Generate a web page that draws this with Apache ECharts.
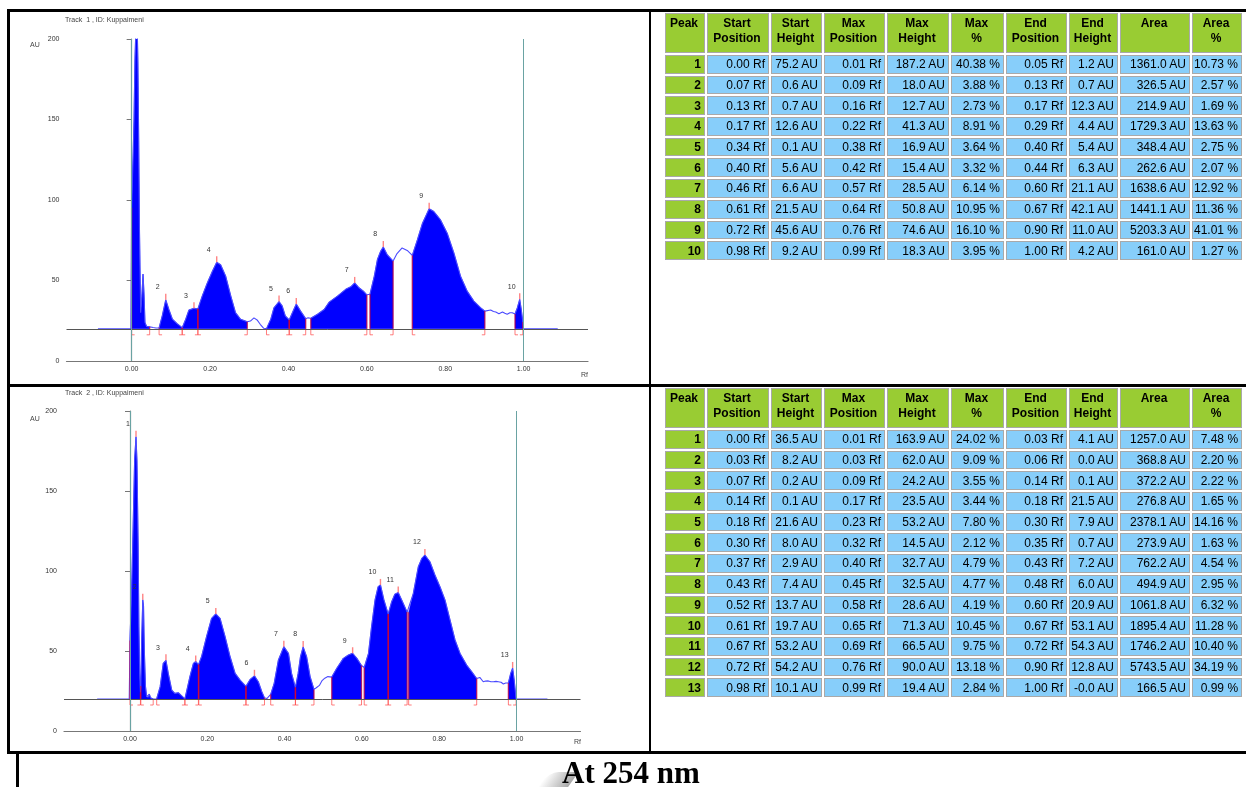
<!DOCTYPE html>
<html><head><meta charset="utf-8">
<script src="https://cdn.jsdelivr.net/npm/echarts@6/dist/echarts.min.js"></script>
<style>
html,body{margin:0;padding:0;background:#fff;width:1246px;height:787px;overflow:hidden;position:relative;}
#chart{position:absolute;left:0;top:0;width:1246px;height:787px;}
.bar{position:absolute;background:#000;z-index:5;}
table.pk{position:absolute;left:663px;border-collapse:separate;border-spacing:2px;table-layout:fixed;font-family:"Liberation Sans",Arial,sans-serif;font-size:12px;color:#000;z-index:4;}
table.pk td,table.pk th{box-sizing:border-box;border:1px solid #a9a9a9;padding:0 3px 0 1px;white-space:nowrap;overflow:hidden;}
table.pk th{background:#99cc33;font-weight:bold;vertical-align:top;text-align:center;height:40px;line-height:15px;padding-top:2px;}
table.pk td{background:#87cefa;text-align:right;height:18.7px;line-height:16px;}
table.pk td.pn{background:#99cc33;font-weight:bold;}
#cap{position:absolute;left:562px;top:757px;font-family:"Liberation Serif","Times New Roman",serif;font-weight:bold;font-size:31px;line-height:31px;color:#000;z-index:6;}
#sw{position:absolute;left:543px;top:772px;width:30px;height:16px;background:linear-gradient(to right,rgba(170,170,170,0),#a8a8a8);transform:skewX(-35deg);border-radius:10px 0 0 0;z-index:5;}
</style></head>
<body>
<div id="chart"></div>
<div class="bar" style="left:7px;top:9px;width:1239px;height:3px"></div>
<div class="bar" style="left:7px;top:9px;width:3px;height:745px"></div>
<div class="bar" style="left:649px;top:9px;width:2px;height:745px"></div>
<div class="bar" style="left:7px;top:384px;width:1239px;height:3px"></div>
<div class="bar" style="left:7px;top:751px;width:1239px;height:3px"></div>
<div class="bar" style="left:16px;top:754px;width:3px;height:33px"></div>
<div id="sw"></div>
<div id="cap">At 254 nm</div>
<table class="pk" id="tab1" style="top:11px"></table>
<table class="pk" id="tab2" style="top:386px"></table>
<script>
// ---------- table data (track 1) ----------
const t1StartPos = ['0.00','0.07','0.13','0.17','0.34','0.40','0.46','0.61','0.72','0.98'];
const t1StartH   = ['75.2','0.6','0.7','12.6','0.1','5.6','6.6','21.5','45.6','9.2'];
const t1MaxPos   = ['0.01','0.09','0.16','0.22','0.38','0.42','0.57','0.64','0.76','0.99'];
const t1MaxH     = ['187.2','18.0','12.7','41.3','16.9','15.4','28.5','50.8','74.6','18.3'];
const t1MaxPct   = ['40.38','3.88','2.73','8.91','3.64','3.32','6.14','10.95','16.10','3.95'];
const t1EndPos   = ['0.05','0.13','0.17','0.29','0.40','0.44','0.60','0.67','0.90','1.00'];
const t1EndH     = ['1.2','0.7','12.3','4.4','5.4','6.3','21.1','42.1','11.0','4.2'];
const t1Area     = ['1361.0','326.5','214.9','1729.3','348.4','262.6','1638.6','1441.1','5203.3','161.0'];
const t1AreaPct  = ['10.73','2.57','1.69','13.63','2.75','2.07','12.92','11.36','41.01','1.27'];
// ---------- table data (track 2) ----------
const t2StartPos = ['0.00','0.03','0.07','0.14','0.18','0.30','0.37','0.43','0.52','0.61','0.67','0.72','0.98'];
const t2StartH   = ['36.5','8.2','0.2','0.1','21.6','8.0','2.9','7.4','13.7','19.7','53.2','54.2','10.1'];
const t2MaxPos   = ['0.01','0.03','0.09','0.17','0.23','0.32','0.40','0.45','0.58','0.65','0.69','0.76','0.99'];
const t2MaxH     = ['163.9','62.0','24.2','23.5','53.2','14.5','32.7','32.5','28.6','71.3','66.5','90.0','19.4'];
const t2MaxPct   = ['24.02','9.09','3.55','3.44','7.80','2.12','4.79','4.77','4.19','10.45','9.75','13.18','2.84'];
const t2EndPos   = ['0.03','0.06','0.14','0.18','0.30','0.35','0.43','0.48','0.60','0.67','0.72','0.90','1.00'];
const t2EndH     = ['4.1','0.0','0.1','21.5','7.9','0.7','7.2','6.0','20.9','53.1','54.3','12.8','-0.0'];
const t2Area     = ['1257.0','368.8','372.2','276.8','2378.1','273.9','762.2','494.9','1061.8','1895.4','1746.2','5743.5','166.5'];
const t2AreaPct  = ['7.48','2.20','2.22','1.65','14.16','1.63','4.54','2.95','6.32','11.28','10.40','34.19','0.99'];

// ---------- peak boundaries as read on the plots (Rf) ----------
const p1Start = [0.000,0.070,0.129,0.169,0.344,0.402,0.457,0.608,0.716,0.978];
const p1End   = [0.046,0.129,0.169,0.295,0.402,0.444,0.600,0.667,0.901,0.998];
const p1Max   = [0.011,0.087,0.159,0.217,0.376,0.420,0.569,0.642,0.759,0.990];
const p2Start = [0.000,0.028,0.069,0.142,0.178,0.300,0.364,0.428,0.522,0.606,0.668,0.721,0.979];
const p2End   = [0.027,0.060,0.142,0.177,0.300,0.348,0.428,0.476,0.599,0.668,0.717,0.897,0.999];
const p2Max   = [0.0155,0.033,0.093,0.170,0.222,0.322,0.398,0.448,0.576,0.648,0.694,0.763,0.990];

const baseline = 20;
const xTicks = [0, 0.2, 0.4, 0.6, 0.8, 1.0];

// ---------- densitogram traces [Rf, AU] ----------
const trace1 = [
 [-0.086,20],[-0.002,20],[0.000,95.2],[0.004,130],[0.006,150],[0.0085,188],[0.011,207.2],[0.0145,204],[0.016,185],
 [0.018,137],[0.020,81],[0.023,30],[0.026,40],[0.029,54],[0.0315,42],[0.034,24],[0.038,21.5],[0.046,21.2],
 [0.055,20.8],[0.062,20.5],[0.070,20.6],[0.078,28],[0.087,38],[0.095,32],[0.104,26],[0.116,23.2],[0.129,20.7],
 [0.138,26],[0.146,31.6],[0.159,32.7],[0.169,32.4],
 [0.180,40.3],[0.193,48.5],[0.206,55.7],[0.217,61.3],[0.227,59.8],[0.240,52.6],[0.253,40.3],[0.265,30],[0.278,25.9],[0.295,24.4],
 [0.303,24.8],[0.312,26.8],[0.320,25.5],[0.328,22.8],[0.337,20.3],[0.344,20.1],
 [0.355,26],[0.363,33],[0.376,36.9],[0.384,34.2],[0.392,28],[0.402,25.5],
 [0.410,30],[0.420,35.4],[0.431,31],[0.444,26.3],[0.450,26.8],[0.457,26.6],
 [0.474,29],[0.491,32],[0.504,36.6],[0.525,40.3],[0.546,44.5],[0.559,46.1],[0.569,48.5],[0.580,45.5],[0.593,43],[0.600,41.1],
 [0.604,41.2],[0.608,41.5],
 [0.619,52.7],[0.627,63],[0.635,68.1],[0.642,70.8],[0.652,66],[0.667,62.1],
 [0.677,66.7],[0.690,70.2],[0.703,68.7],[0.716,65.6],
 [0.729,75.3],[0.742,85.6],[0.759,94.6],[0.771,92.8],[0.788,87.6],[0.805,79.4],[0.822,67.1],[0.839,52.7],[0.856,43.4],[0.873,37.2],[0.890,33.1],[0.901,31.0],
 [0.916,31.7],[0.923,30.8],[0.929,30.4],[0.937,29.4],[0.946,30.4],[0.952,29.6],[0.958,29],[0.965,30],[0.971,30],[0.978,29.2],
 [0.984,33.1],[0.990,38.3],[0.994,32],[0.997,26],[0.998,24.2],[1.000,20],[1.087,20]
];
const trace2 = [
 [-0.085,20],[-0.002,20],[0.000,56.5],[0.005,96],[0.009,138],[0.012,170],[0.0155,183.9],[0.018,169],[0.021,117],[0.023,65],
 [0.025,36],[0.027,24.1],[0.028,28.2],[0.030,55],[0.033,82],[0.035,78],[0.037,51],[0.040,28],[0.043,21.4],[0.047,21],[0.050,23],[0.053,20.8],
 [0.060,20.0],[0.065,20],[0.069,20.2],
 [0.078,27.7],[0.086,42.3],[0.093,44.2],[0.099,36],[0.108,25.6],[0.116,23.5],[0.125,23.9],[0.134,22],[0.142,20.1],
 [0.155,34],[0.164,42.3],[0.170,43.5],[0.177,41.5],
 [0.178,41.6],[0.185,46.4],[0.198,59],[0.211,70.4],[0.222,73.2],[0.233,70.4],[0.246,59],[0.259,46.4],[0.272,36],[0.285,31.8],[0.300,27.9],
 [0.311,32.3],[0.322,34.5],[0.332,30.8],[0.341,24.6],[0.348,20.7],[0.354,20.3],[0.358,20.5],[0.364,22.9],
 [0.373,29.8],[0.384,44.4],[0.398,52.7],[0.410,48.5],[0.418,36],[0.428,27.2],
 [0.435,36],[0.441,46.4],[0.448,52.5],[0.457,46.4],[0.466,34],[0.476,26.0],
 [0.482,27],[0.490,28.5],[0.497,31.5],[0.504,33],[0.512,34],[0.517,34.4],[0.522,33.7],
 [0.535,39.2],[0.552,45.4],[0.565,47.5],[0.576,48.6],[0.587,45.4],[0.599,40.9],[0.603,40.5],[0.606,39.7],
 [0.617,48.5],[0.625,65.2],[0.634,81.9],[0.642,90.2],[0.648,91.3],[0.657,81.9],[0.668,73.1],
 [0.677,80.8],[0.685,85.4],[0.694,86.5],[0.703,81.9],[0.717,74.3],[0.721,74.2],
 [0.733,86],[0.746,102.7],[0.755,107.9],[0.763,110],[0.776,105.8],[0.789,97.5],[0.802,90.2],[0.815,81.9],[0.828,69.4],[0.841,56.9],
 [0.854,48.5],[0.871,41.2],[0.884,37.1],[0.897,32.8],
 [0.905,33.5],[0.914,30.8],[0.920,31.2],[0.927,31.3],[0.934,30.8],[0.940,30.8],[0.947,31],[0.953,30.8],[0.960,30.5],[0.966,29.4],[0.972,30],[0.979,30.1],
 [0.985,36],[0.990,39.4],[0.994,31.9],[0.999,20],[1.080,20]
];

// ---------- tables ----------
const colHeads = ['Peak','Start<br>Position','Start<br>Height','Max<br>Position','Max<br>Height','Max<br>%','End<br>Position','End<br>Height','Area','Area<br>%'];
const colW = [40,62,51,61,62,53,61,49,70,50];
function buildTable(id, cols){
  const n = cols[0].length;
  let h = '<colgroup>' + colW.map(w=>'<col style="width:'+w+'px">').join('') + '</colgroup>';
  h += '<tr>' + colHeads.map((c,i)=>'<th style="width:'+colW[i]+'px">'+c+'</th>').join('') + '</tr>';
  const units = [' Rf',' AU',' Rf',' AU',' %',' Rf',' AU',' AU',' %'];
  for (let r=0;r<n;r++){
    h += '<tr><td class="pn">'+(r+1)+'</td>';
    cols.forEach((c,j)=>{ h += '<td>'+c[r]+units[j]+'</td>'; });
    h += '</tr>';
  }
  document.getElementById(id).innerHTML = h;
}
buildTable('tab1',[t1StartPos,t1StartH,t1MaxPos,t1MaxH,t1MaxPct,t1EndPos,t1EndH,t1Area,t1AreaPct]);
buildTable('tab2',[t2StartPos,t2StartH,t2MaxPos,t2MaxH,t2MaxPct,t2EndPos,t2EndH,t2Area,t2AreaPct]);

// ---------- chart ----------
const P1 = {start:p1Start,end:p1End,max:p1Max,sh:t1StartH.map(Number),eh:t1EndH.map(Number),mh:t1MaxH.map(Number)};
const P2 = {start:p2Start,end:p2End,max:p2Max,sh:t2StartH.map(Number),eh:t2EndH.map(Number),mh:t2MaxH.map(Number)};

function fillItem(trace, P){ return function(params, api){
  const i = api.value(2);
  const s = P.start[i], e = P.end[i];
  const pts = [api.coord([s, baseline])];
  trace.forEach(p=>{ if (p[0] >= s-1e-9 && p[0] <= e+1e-9) pts.push(api.coord(p)); });
  pts.push(api.coord([e, baseline]));
  return {type:'polygon', shape:{points:pts}, style:{fill:'#0000ff', stroke:'#0000ff', lineWidth:0.5}};
};}
function markItem(P){ return function(params, api){
  const i = api.value(2);
  const b0 = api.coord([P.start[i], baseline]), b1 = api.coord([P.start[i], baseline+P.sh[i]]);
  const c0 = api.coord([P.end[i], baseline]), c1 = api.coord([P.end[i], baseline+P.eh[i]]);
  const m = api.coord([P.max[i], baseline+P.mh[i]]);
  const red = 'rgba(255,0,0,0.55)', pink = 'rgba(255,70,70,0.7)', tick = 'rgba(255,110,110,0.85)';
  return {type:'group', children:[
    {type:'line', shape:{x1:b0[0],y1:b0[1],x2:b1[0],y2:b1[1]}, style:{stroke:red,lineWidth:1.4}},
    {type:'line', shape:{x1:c0[0],y1:c0[1],x2:c1[0],y2:c1[1]}, style:{stroke:red,lineWidth:1.4}},
    {type:'polyline', shape:{points:[[b0[0],b0[1]],[b0[0],b0[1]+6],[b0[0]+3,b0[1]+6]]}, style:{stroke:pink,fill:null,lineWidth:1}},
    {type:'polyline', shape:{points:[[c0[0],c0[1]],[c0[0],c0[1]+6],[c0[0]-3,c0[1]+6]]}, style:{stroke:pink,fill:null,lineWidth:1}},
    {type:'line', shape:{x1:m[0],y1:m[1],x2:m[0],y2:m[1]-6}, style:{stroke:tick,lineWidth:1.4}},
    {type:'text', x:m[0]-8, y:m[1]-12.5, style:{text:String(i+1), fill:'#333', font:'7px "Liberation Sans", Arial, sans-serif', align:'center', verticalAlign:'middle'}}
  ]};
};}

const grids = [
  {left:66.5, top:39, width:521.5, height:322, outerBoundsMode:'none'},
  {left:64, top:411, width:516.5, height:320, outerBoundsMode:'none'}
];
const xRanges = [[-0.1662,1.1642],[-0.1708,1.1656]];
const axFont = {fontSize:7, color:'#333', fontFamily:'"Liberation Sans", Arial, sans-serif'};

const option = {
  animation:false,
  backgroundColor:'transparent',
  grid: grids,
  xAxis: [0,1].map(k=>({
    type:'value', gridIndex:k, min:xRanges[k][0], max:xRanges[k][1],
    axisLine:{show:true, onZero:false, lineStyle:{color:'#777', width:1.2}},
    axisTick:{show:false},
    splitLine:{show:false},
    axisLabel:Object.assign({customValues:xTicks, formatter:v=>v.toFixed(2), margin:5}, axFont)
  })),
  yAxis: [0,1].map(k=>({
    type:'value', gridIndex:k, min:0, max:200, interval:50,
    axisLine:{show:true, lineStyle:{color:'#777', width:1.2}},
    axisTick:{show:true, length:5, lineStyle:{color:'#777'}},
    splitLine:{show:false},
    axisLabel:Object.assign({margin:7}, axFont)
  })),
  graphic:[
    {type:'text', x:65, y:20, style:{text:'Track  1 , ID: Kuppaimeni', fill:'#444', font:'7px "Liberation Sans", Arial, sans-serif', verticalAlign:'middle'}},
    {type:'text', x:30, y:45, style:{text:'AU', fill:'#444', font:'7px "Liberation Sans", Arial, sans-serif', verticalAlign:'middle'}},
    {type:'text', x:581, y:375, style:{text:'Rf', fill:'#444', font:'7px "Liberation Sans", Arial, sans-serif', verticalAlign:'middle'}},
    {type:'text', x:65, y:393, style:{text:'Track  2 , ID: Kuppaimeni', fill:'#444', font:'7px "Liberation Sans", Arial, sans-serif', verticalAlign:'middle'}},
    {type:'text', x:30, y:419, style:{text:'AU', fill:'#444', font:'7px "Liberation Sans", Arial, sans-serif', verticalAlign:'middle'}},
    {type:'text', x:574, y:742, style:{text:'Rf', fill:'#444', font:'7px "Liberation Sans", Arial, sans-serif', verticalAlign:'middle'}}
  ],
  series: []
};
[[trace1,P1],[trace2,P2]].forEach(([tr,P],k)=>{
  const idx = P.start.map((s,i)=>[s, baseline, i]);
  option.series.push({
    type:'custom', xAxisIndex:k, yAxisIndex:k, clip:true, z:2, silent:true,
    renderItem: fillItem(tr,P), data: idx
  });
  option.series.push({
    type:'line', xAxisIndex:k, yAxisIndex:k, data:tr, showSymbol:false, symbol:'none', z:3, silent:true,
    lineStyle:{color:'#4a4aff', width:1.1},
    markLine:{silent:true, symbol:['none','none'], label:{show:false},
      data:[{yAxis:baseline, lineStyle:{color:'#555',type:'solid',width:1}},
            {xAxis:0, lineStyle:{color:'#6aa3a3',type:'solid',width:1}},
            {xAxis:1, lineStyle:{color:'#6aa3a3',type:'solid',width:1}}]}
  });
  option.series.push({
    type:'custom', xAxisIndex:k, yAxisIndex:k, clip:true, z:4, silent:true,
    renderItem: markItem(P), data: idx
  });
});
const chart = echarts.init(document.getElementById('chart'), null, {renderer:'canvas'});
chart.setOption(option);
</script>
</body></html>
